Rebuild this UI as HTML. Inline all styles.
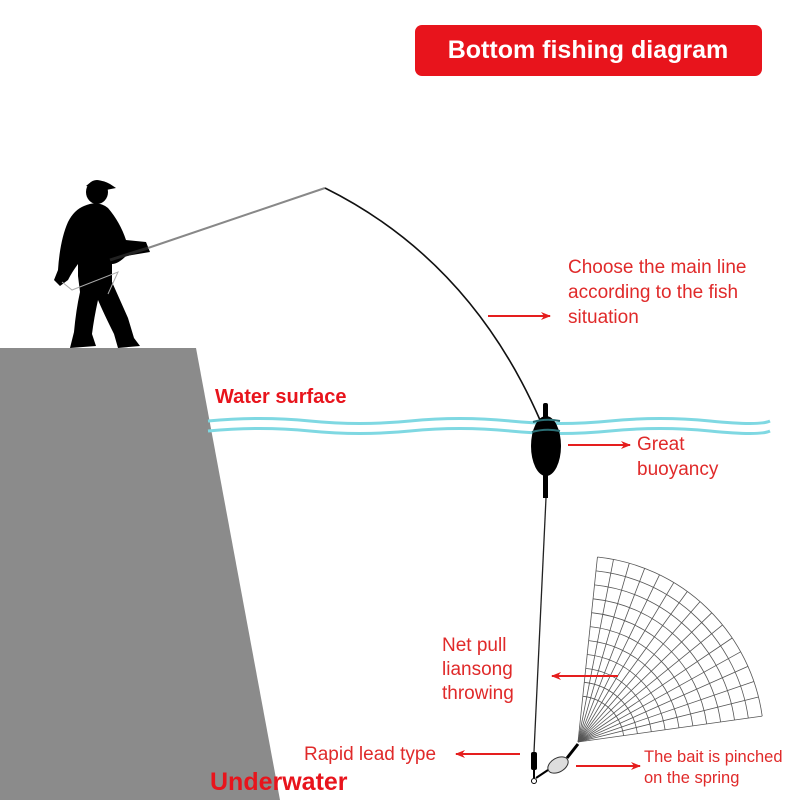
<!DOCTYPE html>
<html><head><style>html,body{margin:0;padding:0;background:#fff}svg{display:block}</style></head>
<body>
<svg width="800" height="800" viewBox="0 0 800 800" xmlns="http://www.w3.org/2000/svg" font-family="Liberation Sans, Arial, sans-serif">
<defs>
<marker id="ah" markerWidth="10" markerHeight="8" refX="9" refY="4" orient="auto" markerUnits="userSpaceOnUse"><path d="M0,0 L10,4 L0,8 L3,4 Z" fill="#e51e1e"/></marker>
</defs>
<rect x="415" y="25" width="347" height="51" rx="7" fill="#e8141c"/>
<text x="588" y="58" font-size="25" font-weight="bold" fill="#fff" text-anchor="middle">Bottom fishing diagram</text>
<polygon points="0,348 196,348 280,800 0,800" fill="#8b8b8b"/>
<!-- man -->
<g fill="#000">
<ellipse cx="97" cy="192" rx="11" ry="12"/>
<path d="M86,186 Q96,176 110,184 L116,188 L106,190 Z"/>
<path d="M84,206 Q98,200 108,208 Q120,222 126,240 L146,242 L150,252 L126,256 Q118,264 112,264 L112,282 Q120,300 128,318 L134,338 L140,346 L118,348 L114,334 Q104,314 98,300 Q94,318 92,334 L96,346 L70,348 L74,332 Q76,310 80,292 L78,276 L78,264 Q72,272 68,280 L60,286 L54,280 L58,270 Q60,240 68,222 Q74,210 84,206 Z"/>
</g>
<line x1="110" y1="260" x2="148" y2="248" stroke="#222" stroke-width="3"/>
<line x1="148" y1="248" x2="325" y2="188" stroke="#888" stroke-width="2"/>
<polyline points="62,282 72,290 118,272 108,294" fill="none" stroke="#aaa" stroke-width="1"/>
<path d="M325,188 Q470,260 540,420" fill="none" stroke="#111" stroke-width="1.6"/>
<!-- water -->
<path d="M208,421 Q260,416 310,421 T410,421 T510,421 T610,421 T710,421 T770,421" fill="none" stroke="#7fd8e2" stroke-width="3"/>
<path d="M208,431 Q260,426 310,431 T410,431 T510,431 T610,431 T710,431 T770,431" fill="none" stroke="#7fd8e2" stroke-width="3"/>
<!-- float -->
<rect x="543" y="403" width="5" height="18" rx="2" fill="#000"/>
<ellipse cx="546" cy="446" rx="15" ry="30" fill="#000"/>
<path d="M533,422 Q546,418 560,421" stroke="#2a6e74" stroke-width="2" fill="none"/>
<path d="M532,432 Q546,428 560,431" stroke="#2a6e74" stroke-width="2" fill="none"/>
<rect x="543" y="470" width="5" height="28" fill="#000"/>
<line x1="546" y1="498" x2="534" y2="752" stroke="#222" stroke-width="1.3"/>
<!-- lead & bait -->
<rect x="531" y="752" width="6" height="18" rx="2" fill="#000"/>
<line x1="534" y1="770" x2="534" y2="778" stroke="#000" stroke-width="2"/>
<circle cx="534" cy="781" r="2.5" fill="none" stroke="#000"/>
<line x1="536" y1="778" x2="548" y2="770" stroke="#000" stroke-width="2"/>
<ellipse cx="558" cy="765" rx="11" ry="7" transform="rotate(-30 558 765)" fill="#ddd" stroke="#333"/>
<line x1="567" y1="758" x2="578" y2="744" stroke="#000" stroke-width="3"/>
<!-- net -->
<g transform="translate(578,742)" stroke="#555" stroke-width="0.8" fill="none">
<path d="M19.4,-185 A186,186 0 0 1 184.2,-25.9"/>
<path d="M18,-171.1 A172,172 0 0 1 170.3,-23.9"/>
<path d="M16.5,-157.1 A158,158 0 0 1 156.5,-22"/>
<path d="M15,-143.2 A144,144 0 0 1 142.6,-20"/>
<path d="M13.6,-129.3 A130,130 0 0 1 128.7,-18.1"/>
<path d="M12.1,-115.4 A116,116 0 0 1 114.9,-16.1"/>
<path d="M10.7,-101.4 A102,102 0 0 1 101,-14.2"/>
<path d="M9.2,-87.5 A88,88 0 0 1 87.1,-12.2"/>
<path d="M7.7,-73.6 A74,74 0 0 1 73.3,-10.3"/>
<path d="M6.3,-59.7 A60,60 0 0 1 59.4,-8.4"/>
<path d="M4.8,-45.7 A46,46 0 0 1 45.6,-6.4"/>
<g>
<line x2="186" transform="rotate(-84)"/><line x2="186" transform="rotate(-79)"/><line x2="186" transform="rotate(-74)"/><line x2="186" transform="rotate(-69)"/><line x2="186" transform="rotate(-64)"/><line x2="186" transform="rotate(-59)"/><line x2="186" transform="rotate(-54)"/><line x2="186" transform="rotate(-49)"/><line x2="186" transform="rotate(-44)"/><line x2="186" transform="rotate(-39)"/><line x2="186" transform="rotate(-34)"/><line x2="186" transform="rotate(-29)"/><line x2="186" transform="rotate(-24)"/><line x2="186" transform="rotate(-19)"/><line x2="186" transform="rotate(-14)"/><line x2="186" transform="rotate(-8)"/>
</g>
</g>
<!-- labels -->
<g fill="#e02a2a" font-size="19">
<text x="568" y="273">Choose the main line</text>
<text x="568" y="298">according to the fish</text>
<text x="568" y="323">situation</text>
<text x="637" y="450">Great</text>
<text x="637" y="475">buoyancy</text>
<text x="442" y="651">Net pull</text>
<text x="442" y="675">liansong</text>
<text x="442" y="699">throwing</text>
<text x="304" y="760">Rapid lead type</text>
<text x="644" y="762" font-size="16.5">The bait is pinched</text>
<text x="644" y="783" font-size="16.5">on the spring</text>
</g>
<text x="215" y="403" font-size="20" font-weight="bold" fill="#e8141c">Water surface</text>
<text x="210" y="790" font-size="25" font-weight="bold" fill="#e8141c">Underwater</text>
<g stroke="#e51e1e" stroke-width="2" marker-end="url(#ah)">
<line x1="488" y1="316" x2="550" y2="316"/>
<line x1="568" y1="445" x2="630" y2="445"/>
<line x1="618" y1="676" x2="552" y2="676"/>
<line x1="520" y1="754" x2="456" y2="754"/>
<line x1="576" y1="766" x2="640" y2="766"/>
</g>
</svg>
</body></html>
